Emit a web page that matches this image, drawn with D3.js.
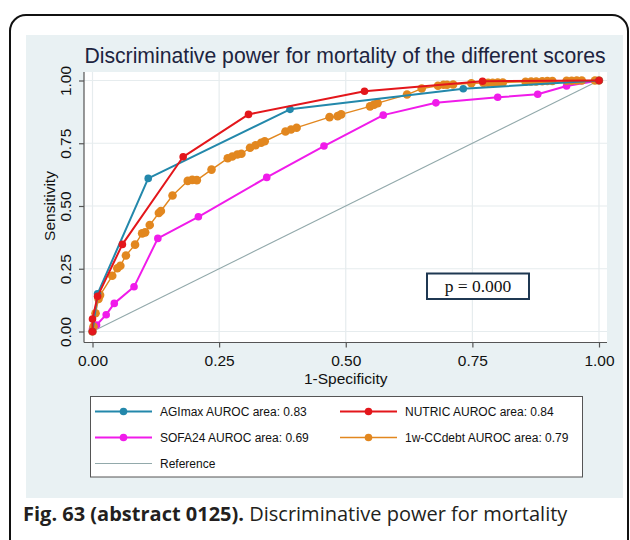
<!DOCTYPE html>
<html>
<head>
<meta charset="utf-8">
<script src="https://cdn.jsdelivr.net/npm/d3@7"></script>
<style>
  html, body { margin: 0; padding: 0; background: #ffffff; }
  svg { display: block; }
</style>
</head>
<body>
<svg id="chart" width="630" height="540"></svg>
<script>
// ROC curve points: [1-specificity, sensitivity]
const agimax = [[0,0],[0.01,0.15],[0.11,0.61],[0.39,0.885],[0.732,0.967],[1,1]];
const nutric = [[0,0],[0,0.05],[0.01,0.14],[0.059,0.347],[0.179,0.696],[0.308,0.865],[0.537,0.957],[0.77,0.997],[1,1]];
const sofa24 = [[0,0],[0,0.01],[0.008,0.026],[0.027,0.067],[0.043,0.112],[0.082,0.178],[0.129,0.371],[0.209,0.457],[0.344,0.614],[0.457,0.739],[0.574,0.862],[0.678,0.911],[0.80,0.933],[0.879,0.945],[0.936,0.978],[1,1]];
const ccdebt = [[0,0],[0.002,0.02],[0.006,0.073],[0.012,0.13],[0.015,0.145],[0.039,0.222],[0.049,0.252],[0.055,0.262],[0.066,0.303],[0.084,0.346],[0.098,0.391],[0.104,0.395],[0.113,0.424],[0.131,0.472],[0.135,0.48],[0.158,0.542],[0.188,0.600],[0.197,0.604],[0.206,0.603],[0.235,0.645],[0.267,0.690],[0.276,0.697],[0.286,0.705],[0.294,0.708],[0.311,0.732],[0.322,0.742],[0.333,0.752],[0.34,0.758],[0.381,0.797],[0.392,0.805],[0.403,0.812],[0.468,0.854],[0.484,0.858],[0.491,0.865],[0.548,0.897],[0.556,0.904],[0.563,0.910],[0.621,0.944],[0.65,0.968],[0.682,0.979],[0.693,0.983],[0.700,0.983],[0.712,0.984],[0.748,0.989],[0.772,0.990],[0.781,0.991],[0.79,0.991],[0.80,0.992],[0.81,0.992],[0.855,0.995],[0.866,0.996],[0.876,0.996],[0.888,0.997],[0.898,0.998],[0.908,0.998],[0.936,0.999],[0.946,0.999],[0.956,1],[0.966,1],[0.992,1],[1,1]];
const referenceLine = [[0,0],[1,1]];

const tickValues = [0, 0.25, 0.5, 0.75, 1];
const tickLabels = ["0.00", "0.25", "0.50", "0.75", "1.00"];

const seriesNames = ["AGImax AUROC area: 0.83", "NUTRIC AUROC area: 0.84", "SOFA24 AUROC area: 0.69", "1w-CCdebt AUROC area: 0.79", "Reference"];
const seriesColors = ["#2388ab", "#e3161b", "#f01bea", "#e2871f", "#92a9ab"];

const titleText = "Discriminative power for mortality of the different scores";
const xTitle = "1-Specificity";
const yTitle = "Sensitivity";
const pText = "p = 0.000";

const svg = d3.select("#chart");

// figure frame
svg.append("rect")
  .attr("x", 10).attr("y", 15).attr("width", 618).attr("height", 540)
  .attr("rx", 16).attr("ry", 16)
  .attr("fill", "#ffffff").attr("stroke", "#111").attr("stroke-width", 2);

// graph region
svg.append("rect")
  .attr("x", 26).attr("y", 35).attr("width", 597).attr("height", 463)
  .attr("fill", "#e9f1f3");

// plot region
const plot = { left: 84, right: 607, top: 72, bottom: 342.5 };
svg.append("rect")
  .attr("x", plot.left).attr("y", plot.top)
  .attr("width", plot.right - plot.left).attr("height", plot.bottom - plot.top)
  .attr("fill", "#ffffff");

const x = d3.scaleLinear().domain([0, 1]).range([92.5, 599]);
const y = d3.scaleLinear().domain([0, 1]).range([331.5, 80.5]);

// grid
const grid = svg.append("g").attr("stroke", "#e6ecee").attr("stroke-width", 1.2);
tickValues.forEach(v => {
  grid.append("line").attr("x1", x(v)).attr("x2", x(v)).attr("y1", plot.top).attr("y2", plot.bottom);
  grid.append("line").attr("x1", plot.left).attr("x2", plot.right).attr("y1", y(v)).attr("y2", y(v));
});

// axes
const fmt = (d) => tickLabels[tickValues.indexOf(d)];
const xAxis = d3.axisBottom(x).tickValues(tickValues).tickFormat(fmt).tickSize(5).tickPadding(7);
const yAxis = d3.axisLeft(y).tickValues(tickValues).tickFormat(fmt).tickSize(5).tickPadding(4);

const gx = svg.append("g").attr("transform", `translate(0,${plot.bottom})`).call(xAxis);
gx.select(".domain").attr("d", `M${plot.left},0H${plot.right}`);
const gy = svg.append("g").attr("transform", `translate(${plot.left},0)`).call(yAxis);
gy.select(".domain").attr("d", `M0,${plot.top}V${plot.bottom}`);

[gx, gy].forEach(g => {
  g.select(".domain").attr("stroke", "#555").attr("stroke-width", 1.2);
  g.selectAll(".tick line").attr("stroke", "#555").attr("stroke-width", 1.2);
  g.selectAll(".tick text")
    .attr("font-family", "'Liberation Sans', Arial, sans-serif")
    .attr("font-size", 15.5).attr("fill", "#111");
});
gy.selectAll(".tick text")
  .attr("text-anchor", "middle")
  .attr("x", 0).attr("dy", 0)
  .attr("transform", "translate(-12,0) rotate(-90)")
  .attr("y", -1);

// axis titles
svg.append("text")
  .attr("x", x(0.5)).attr("y", 384)
  .attr("text-anchor", "middle")
  .attr("font-family", "'Liberation Sans', Arial, sans-serif")
  .attr("font-size", 15.5).attr("fill", "#111")
  .text(xTitle);
svg.append("text")
  .attr("transform", `translate(55,${y(0.5)}) rotate(-90)`)
  .attr("text-anchor", "middle")
  .attr("font-family", "'Liberation Sans', Arial, sans-serif")
  .attr("font-size", 15.5).attr("fill", "#111")
  .text(yTitle);

// title
svg.append("text")
  .attr("x", 345).attr("y", 63)
  .attr("text-anchor", "middle")
  .attr("font-family", "'Liberation Sans', Arial, sans-serif")
  .attr("font-size", 21.2).attr("fill", "#1d2440")
  .text(titleText);

// curves
const line = d3.line().x(d => x(d[0])).y(d => y(d[1]));

svg.append("path").datum(referenceLine)
  .attr("d", line).attr("fill", "none")
  .attr("stroke", seriesColors[4]).attr("stroke-width", 1.1);

const curves = [
  { data: sofa24, color: seriesColors[2], width: 2, r: 3.8 },
  { data: ccdebt, color: seriesColors[3], width: 1.4, r: 4.3 },
  { data: agimax, color: seriesColors[0], width: 2, r: 3.8 },
  { data: nutric, color: seriesColors[1], width: 2, r: 3.8 }
];
curves.forEach(c => {
  svg.append("path").datum(c.data)
    .attr("d", line).attr("fill", "none")
    .attr("stroke", c.color).attr("stroke-width", c.width)
    .attr("stroke-linejoin", "round");
  svg.append("g").selectAll("circle").data(c.data).join("circle")
    .attr("cx", d => x(d[0])).attr("cy", d => y(d[1]))
    .attr("r", c.r).attr("fill", c.color);
});

// p-value box
svg.append("rect")
  .attr("x", 427).attr("y", 273.5).attr("width", 102).attr("height", 25.5)
  .attr("fill", "#ffffff").attr("stroke", "#1f3852").attr("stroke-width", 2);
svg.append("text")
  .attr("x", 478).attr("y", 292)
  .attr("text-anchor", "middle")
  .attr("font-family", "'Liberation Serif', 'Times New Roman', serif")
  .attr("font-size", 17.5).attr("fill", "#111")
  .text(pText);

// legend
svg.append("rect")
  .attr("x", 90.5).attr("y", 396.5).attr("width", 492).attr("height", 80.5)
  .attr("fill", "#ffffff").attr("stroke", "#555").attr("stroke-width", 1);

const legendItems = [
  { name: seriesNames[0], color: seriesColors[0], col: 0, row: 0, marker: true, w: 2.2 },
  { name: seriesNames[1], color: seriesColors[1], col: 1, row: 0, marker: true, w: 2.2 },
  { name: seriesNames[2], color: seriesColors[2], col: 0, row: 1, marker: true, w: 2.2 },
  { name: seriesNames[3], color: seriesColors[3], col: 1, row: 1, marker: true, w: 1.6 },
  { name: seriesNames[4], color: seriesColors[4], col: 0, row: 2, marker: false, w: 1.1 }
];
const colX = [95, 340];
const rowY = [411.5, 437.5, 463.5];
legendItems.forEach(it => {
  const lx = colX[it.col], ly = rowY[it.row];
  svg.append("line")
    .attr("x1", lx).attr("x2", lx + 57).attr("y1", ly).attr("y2", ly)
    .attr("stroke", it.color).attr("stroke-width", it.w);
  if (it.marker) {
    svg.append("circle").attr("cx", lx + 28.5).attr("cy", ly).attr("r", 3.8).attr("fill", it.color);
  }
  svg.append("text")
    .attr("x", lx + 65).attr("y", ly + 4.5)
    .attr("font-family", "'Liberation Sans', Arial, sans-serif")
    .attr("font-size", 12).attr("fill", "#111")
    .text(it.name);
});

// caption
const cap = svg.append("text")
  .attr("x", 23).attr("y", 521)
  .attr("font-family", "'Open Sans', 'Noto Sans', sans-serif")
  .attr("font-size", 20).attr("fill", "#231f20");
cap.append("tspan").attr("font-weight", "bold").text("Fig. 63 (abstract 0125).");
cap.append("tspan").text(" Discriminative power for mortality");
</script>
</body>
</html>
